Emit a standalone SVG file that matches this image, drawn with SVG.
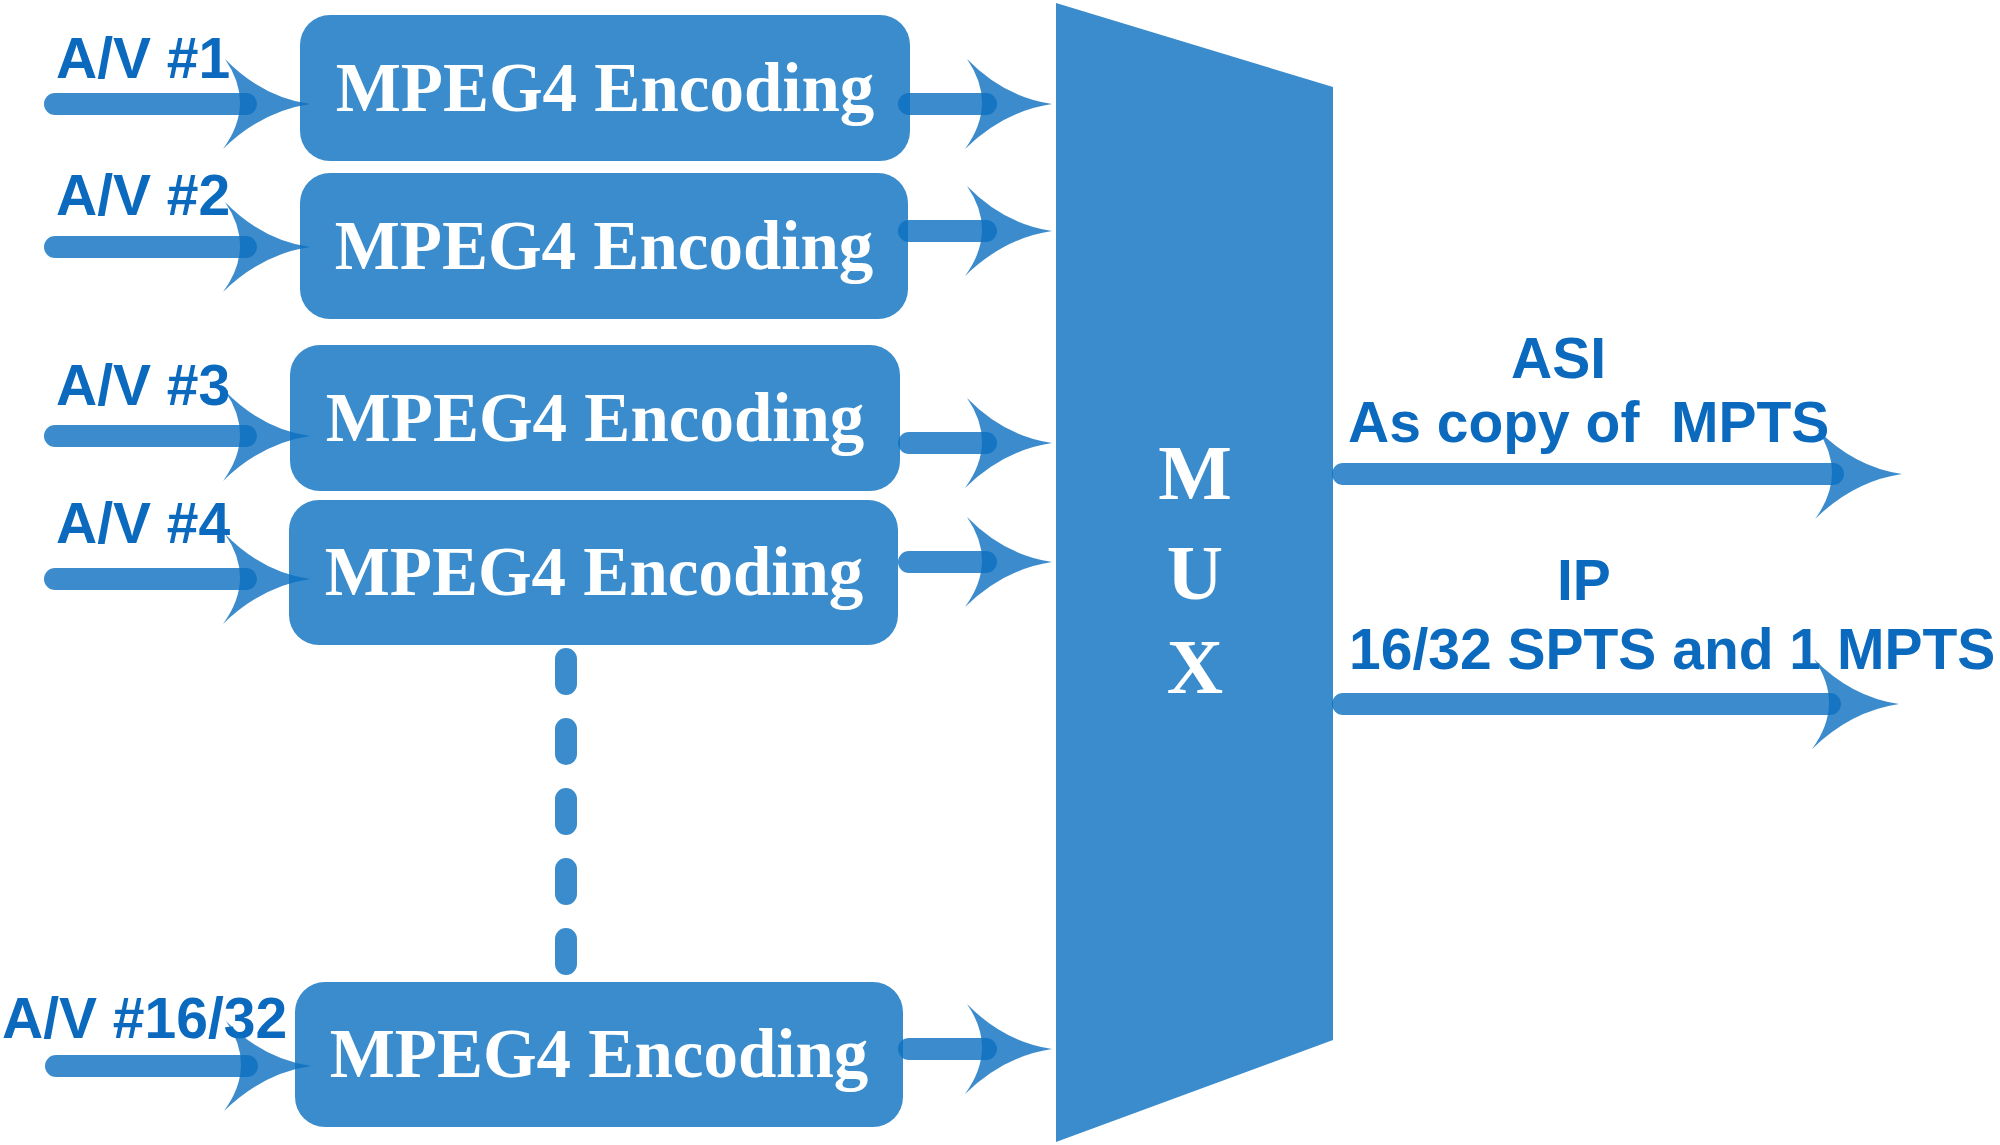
<svg xmlns="http://www.w3.org/2000/svg" xmlns:xlink="http://www.w3.org/1999/xlink" width="2000" height="1145" viewBox="0 0 2000 1145">
<style>
  .box { fill: #3a8ccc; }
  .enc { font-family: "Liberation Serif", "Times New Roman", serif; font-weight: bold; font-size: 69px; fill: #ffffff; text-anchor: middle; }
  .mux { font-family: "Liberation Serif", "Times New Roman", serif; font-weight: bold; font-size: 78px; fill: #ffffff; text-anchor: middle; }
  .lbl { font-family: "Liberation Sans", Arial, sans-serif; font-weight: bold; font-size: 57px; fill: #0b6abd; }
  .olbl { font-family: "Liberation Sans", Arial, sans-serif; font-weight: bold; font-size: 57px; fill: #0b6abd; }
  .ar { fill: #0b6fc1; fill-opacity: 0.8; }
  .dash { fill: none; stroke: #3a8ccc; stroke-width: 22; stroke-linecap: round; stroke-dasharray: 25 45; }
</style>
<defs>
  <path id="head" class="ar" d="M0,0 Q-48,-7 -85,-45 Q-54,0 -87,45 Q-48,7 0,0 Z"/>
  <g id="inArrow">
    <rect class="ar" x="-266" y="-11" width="213" height="22" rx="11"/>
    <use xlink:href="#head"/>
  </g>
  <g id="encArrow">
    <rect class="ar" x="-157" y="-11" width="99" height="22" rx="11"/>
    <use xlink:href="#head" transform="translate(-3,0)"/>
  </g>
</defs>
<rect width="2000" height="1145" fill="#ffffff"/>

<g id="enc1">
  <rect class="box" x="300" y="15" width="610" height="146" rx="30"/>
  <text class="enc" x="605" y="111">MPEG4 Encoding</text>
</g>
<g id="enc2">
  <rect class="box" x="300" y="173" width="608" height="146" rx="30"/>
  <text class="enc" x="604" y="269">MPEG4 Encoding</text>
</g>
<g id="enc3">
  <rect class="box" x="290" y="345" width="610" height="146" rx="30"/>
  <text class="enc" x="595" y="441">MPEG4 Encoding</text>
</g>
<g id="enc4">
  <rect class="box" x="289" y="500" width="609" height="145" rx="30"/>
  <text class="enc" x="594" y="595">MPEG4 Encoding</text>
</g>
<g id="enc5">
  <rect class="box" x="295" y="982" width="608" height="145" rx="30"/>
  <text class="enc" x="599" y="1077">MPEG4 Encoding</text>
</g>

<g id="mux">
  <polygon class="box" points="1056,3 1333,87 1333,1040 1056,1142"/>
  <text class="mux" x="1195" y="499">M</text>
  <text class="mux" x="1195" y="599">U</text>
  <text class="mux" x="1195" y="693">X</text>
</g>

<g id="labels">
  <text class="lbl" x="56" y="78">A/V #1</text>
  <text class="lbl" x="56" y="215">A/V #2</text>
  <text class="lbl" x="56" y="405">A/V #3</text>
  <text class="lbl" x="56" y="543">A/V #4</text>
  <text class="lbl" x="2" y="1038">A/V #16/32</text>
  <text class="olbl" x="1511" y="378">ASI</text>
  <text class="olbl" x="1348" y="442" xml:space="preserve">As copy of  MPTS</text>
  <text class="olbl" x="1557" y="600">IP</text>
  <text class="olbl" x="1349" y="669">16/32 SPTS and 1 MPTS</text>
</g>

<g id="connectors">
  <use xlink:href="#inArrow" transform="translate(310,104)"/>
  <use xlink:href="#inArrow" transform="translate(310,247)"/>
  <use xlink:href="#inArrow" transform="translate(310,436)"/>
  <use xlink:href="#inArrow" transform="translate(310,579)"/>
  <use xlink:href="#inArrow" transform="translate(311,1066)"/>
  <use xlink:href="#encArrow" transform="translate(1055,104)"/>
  <use xlink:href="#encArrow" transform="translate(1055,231)"/>
  <use xlink:href="#encArrow" transform="translate(1055,443)"/>
  <use xlink:href="#encArrow" transform="translate(1055,562)"/>
  <use xlink:href="#encArrow" transform="translate(1055,1049)"/>
  <g transform="translate(1902,474)">
    <rect class="ar" x="-570" y="-11" width="512" height="22" rx="11"/>
    <use xlink:href="#head"/>
  </g>
  <g transform="translate(1899,704)">
    <rect class="ar" x="-567" y="-11" width="509" height="22" rx="11"/>
    <use xlink:href="#head"/>
  </g>
  <path class="dash" d="M566,659 L566,966"/>
</g>
</svg>
